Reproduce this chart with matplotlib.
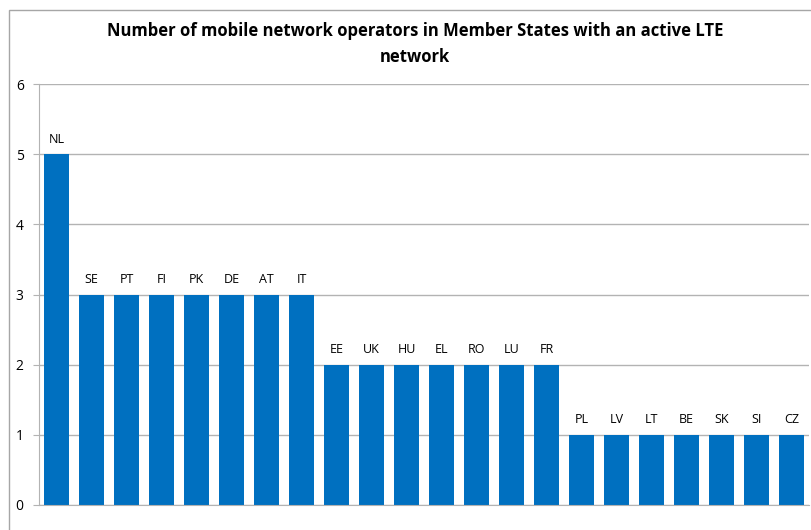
import matplotlib.pyplot as plt
from matplotlib.patches import Rectangle

countries = ['NL', 'SE', 'PT', 'FI', 'PK', 'DE', 'AT', 'IT',
             'EE', 'UK', 'HU', 'EL', 'RO', 'LU', 'FR',
             'PL', 'LV', 'LT', 'BE', 'SK', 'SI', 'CZ']
operators = [5, 3, 3, 3, 3, 3, 3, 3,
             2, 2, 2, 2, 2, 2, 2,
             1, 1, 1, 1, 1, 1, 1]

plt.rcParams['font.family'] = ['Open Sans', 'DejaVu Sans']

fig = plt.figure(figsize=(8.11, 5.30), dpi=100)
# outer chart border (cut off at right and bottom)
fig.patches.append(Rectangle((9 / 811, -0.1), 1.2, 1 - 10 / 530 + 0.1,
                             transform=fig.transFigure, fill=False,
                             edgecolor='#a6a6a6', linewidth=1))

ax = fig.add_axes([39 / 811, 25 / 530, 770 / 811, 421 / 530])
x = range(len(countries))
ax.bar(x, operators, width=0.74, color='#0070c0', zorder=2)
for i, v in enumerate(operators):
    ax.text(i, v + 0.12, countries[i], ha='center', va='bottom', fontsize=9)

ax.set_xlim(-0.5, len(countries) - 0.5)
ax.set_ylim(0, 6)
ax.set_yticks(range(7))
ax.yaxis.grid(True, color='#b3b3b3', linewidth=1, zorder=0)
ax.set_xticks([])
ax.tick_params(axis='y', direction='out', length=4, color='#b3b3b3',
               labelsize=10, pad=7)
for s in ['top', 'right']:
    ax.spines[s].set_visible(False)
ax.spines['left'].set_color('#b3b3b3')
ax.spines['bottom'].set_color('#b3b3b3')

fig.text(415 / 811, 1 - 44 / 530,
         'Number of mobile network operators in Member States with an active LTE\nnetwork',
         ha='center', va='center', fontsize=12, fontweight='bold', linespacing=1.6)

fig.savefig('out.png', dpi=100)
